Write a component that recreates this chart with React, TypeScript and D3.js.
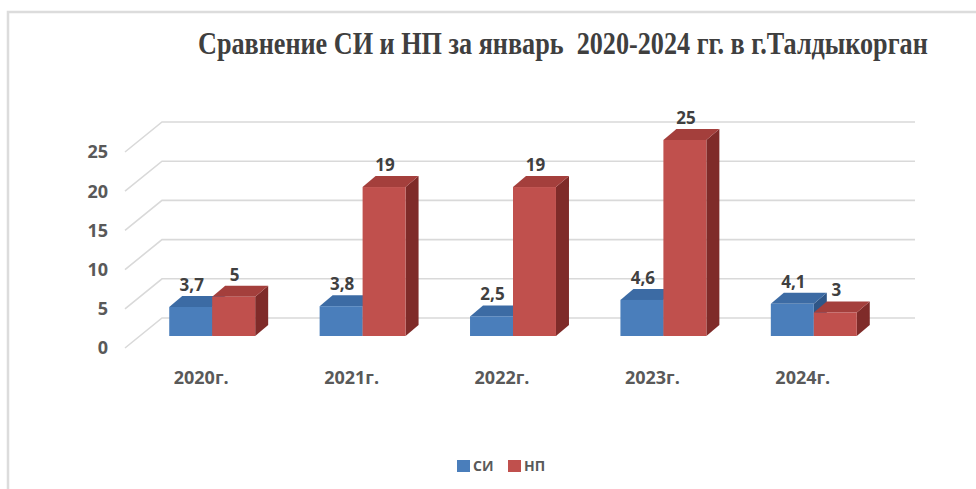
import { useRef, useEffect } from "react";
import * as d3 from "d3";

const categories = ["2020г.", "2021г.", "2022г.", "2023г.", "2024г."];
const seriesNames = ["СИ", "НП"];
const siValues = [3.7, 3.8, 2.5, 4.6, 4.1];
const npValues = [5, 19, 19, 25, 3];
const valueLabels = [
  ["3,7", "3,8", "2,5", "4,6", "4,1"],
  ["5", "19", "19", "25", "3"],
];
const yTicks = [0, 5, 10, 15, 20, 25];

const colors = {
  СИ: { front: "#4a7ebb", top: "#3c6ba4", side: "#2f5687" },
  НП: { front: "#c0504d", top: "#a43f3c", side: "#7f2b29" },
};

const App = () => {
  const svgRef = useRef(null);
  const width = 976;
  const height = 489;

  // back wall of the 3d plot
  const wall = { left: 162, right: 915, bottom: 318, top: 122 };
  const depth = { dx: -37, dy: 30 }; // back -> front offset
  const barDepth = { dx: 13, dy: -11 };
  const barPlane = 0.6; // fraction of depth where bar fronts sit

  useEffect(() => {
    const svg = d3.select(svgRef.current);
    svg.selectAll("*").remove();

    svg
      .append("rect")
      .attr("x", 8)
      .attr("y", 12)
      .attr("width", 1000)
      .attr("height", 520)
      .attr("fill", "#fff")
      .attr("stroke", "#dcdcdc")
      .attr("stroke-width", 2.5);

    // title, squeezed horizontally to fit like the original
    const title = svg
      .append("text")
      .attr("x", 0)
      .attr("y", 0)
      .style("white-space", "pre")
      .attr("font-family", "Liberation Serif")
      .attr("font-weight", "bold")
      .attr("font-size", 31)
      .attr("fill", "#3f3f3f")
      .text("Сравнение СИ и НП за январь  2020-2024 гг. в г.Талдыкорган");
    const natural = title.node().getComputedTextLength() || 732;
    title.attr("transform", `translate(198,54) scale(${730 / natural},1)`);

    const yBack = d3
      .scaleLinear()
      .domain([0, 25])
      .range([wall.bottom, wall.top]);

    const planeDy = depth.dy * barPlane;

    const yBar = d3
      .scaleLinear()
      .domain([0, 25])
      .range([wall.bottom + planeDy, wall.top + planeDy]);

    const xGroup = d3
      .scaleBand()
      .domain(categories)
      .range([137, 889]);

    const xSeries = d3
      .scaleBand()
      .domain(seriesNames)
      .range([0, xGroup.bandwidth()])
      .paddingOuter(0.75);

    // gridlines: back wall + left wall diagonal
    const grid = svg.append("g").attr("stroke", "#d9d9d9").attr("stroke-width", 1.6).attr("fill", "none");
    yTicks.forEach((t) => {
      const y = yBack(t);
      grid
        .append("path")
        .attr("d", `M${wall.left + depth.dx},${y + depth.dy}L${wall.left},${y}L${wall.right},${y}`);
    });

    // y tick labels
    svg
      .append("g")
      .selectAll("text")
      .data(yTicks)
      .join("text")
      .attr("x", 108)
      .attr("y", (d) => yBack(d) + depth.dy)
      .attr("dy", "0.36em")
      .attr("text-anchor", "end")
      .attr("font-family", "Open Sans")
      .attr("font-weight", "bold")
      .attr("font-size", 18)
      .attr("fill", "#595959")
      .text((d) => d);

    // category labels
    svg
      .append("g")
      .selectAll("text")
      .data(categories)
      .join("text")
      .attr("x", (d) => xGroup(d) + xGroup.bandwidth() / 2 - 11)
      .attr("y", 378)
      .attr("dy", "0.36em")
      .attr("text-anchor", "middle")
      .attr("font-family", "Open Sans")
      .attr("font-weight", "bold")
      .attr("font-size", 18)
      .attr("fill", "#595959")
      .text((d) => d);

    // bars
    const bars = svg.append("g");
    const allValues = [siValues, npValues];
    categories.forEach((cat, i) => {
      seriesNames.forEach((s, j) => {
        const v = allValues[j][i];
        const x0 = xGroup(cat) + xSeries(s);
        const x1 = x0 + xSeries.bandwidth();
        const yb = yBar(0);
        const yt = yBar(v);
        const { dx, dy } = barDepth;
        const c = colors[s];
        bars
          .append("path")
          .attr("d", `M${x1},${yb}L${x1 + dx},${yb + dy}L${x1 + dx},${yt + dy}L${x1},${yt}Z`)
          .attr("fill", c.side);
        bars
          .append("path")
          .attr("d", `M${x0},${yt}L${x0 + dx},${yt + dy}L${x1 + dx},${yt + dy}L${x1},${yt}Z`)
          .attr("fill", c.top);
        bars
          .append("rect")
          .attr("x", x0)
          .attr("y", yt)
          .attr("width", x1 - x0)
          .attr("height", yb - yt)
          .attr("fill", c.front);
      });
    });

    // value labels
    const labels = svg.append("g");
    categories.forEach((cat, i) => {
      seriesNames.forEach((s, j) => {
        const v = allValues[j][i];
        const x = xGroup(cat) + xSeries(s) + xSeries.bandwidth() / 2 + 1;
        labels
          .append("text")
          .attr("x", x)
          .attr("y", yBar(v) - 16)
          .attr("text-anchor", "middle")
          .attr("font-family", "Open Sans")
          .attr("font-weight", "bold")
          .attr("font-size", 17)
          .attr("fill", "#404040")
          .text(valueLabels[j][i]);
      });
    });

    // legend
    const legend = svg.append("g").attr("transform", "translate(457,460)");
    const legendX = [0, 51];
    seriesNames.forEach((s, j) => {
      legend
        .append("rect")
        .attr("x", legendX[j])
        .attr("y", 0)
        .attr("width", 13)
        .attr("height", 12)
        .attr("fill", colors[s].front);
      legend
        .append("text")
        .attr("x", legendX[j] + 16)
        .attr("y", 6)
        .attr("dy", "0.36em")
        .attr("font-family", "Open Sans")
        .attr("font-weight", "bold")
        .attr("font-size", 14)
        .attr("fill", "#595959")
        .text(s);
    });
  }, []);

  return (
    <svg
      ref={svgRef}
      width={width}
      height={height}
      style={{ position: "absolute", left: 0, top: 0, background: "#fff" }}
    />
  );
};

export default App;
